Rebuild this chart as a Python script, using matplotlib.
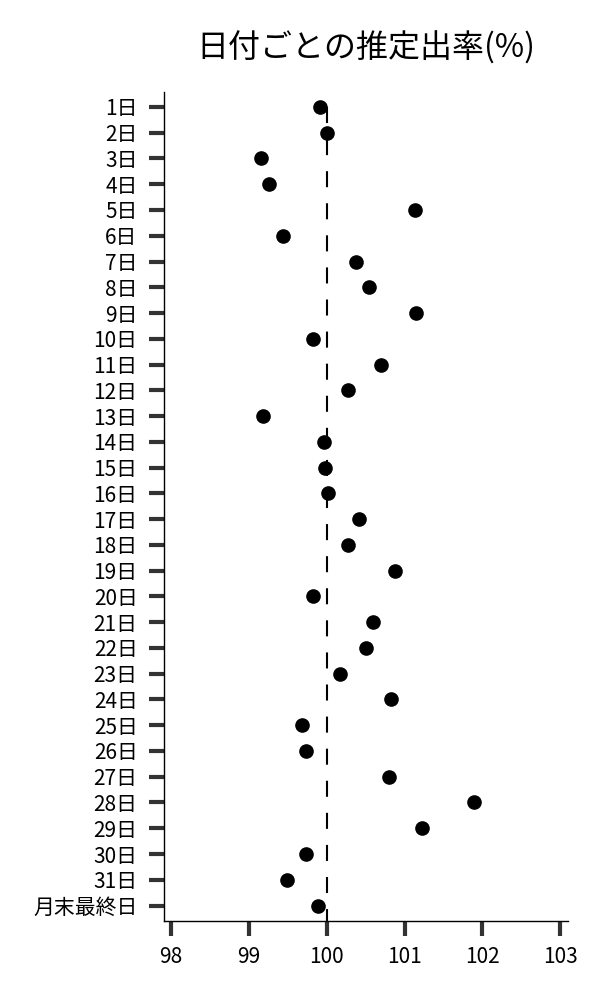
import numpy as np
import matplotlib
matplotlib.use("Agg")
import matplotlib.pyplot as plt

plt.rcParams['font.family'] = ['Noto Sans CJK JP', 'DejaVu Sans']

days = [f"{i}日" for i in range(1, 32)] + ["月末最終日"]
rates = [99.91, 100.00, 99.15, 99.26, 101.14, 99.44, 100.38, 100.54,
         101.15, 99.83, 100.70, 100.28, 99.18, 99.97, 99.98, 100.02,
         100.41, 100.28, 100.88, 99.83, 100.60, 100.51, 100.17, 100.83,
         99.68, 99.74, 100.80, 101.89, 101.22, 99.73, 99.49, 99.89]
xticks = [98, 99, 100, 101, 102, 103]
title = "日付ごとの推定出率(%)"

fig = plt.figure(figsize=(6, 10), dpi=100)
ax = fig.add_axes([0.2733, 0.079, 0.6734, 0.829])

y = np.arange(len(days))
ax.vlines(100, 0, len(days) - 0.4, colors='black', linestyles=(0, (7.7, 7.7)), linewidth=1.5, zorder=1)
ax.plot(rates, y, 'o', color='black', markersize=9.5, zorder=2)

ax.set_yticks(y)
ax.set_yticklabels(days, fontsize=15)
ax.set_xticks(xticks)
ax.set_xticklabels([str(t) for t in xticks], fontsize=15)
ax.set_xlim(97.91, 103.10)
ax.set_ylim(len(days) - 0.4, -0.58)

ax.tick_params(axis='x', length=11, width=3, color='#333333', pad=7)
ax.tick_params(axis='y', length=11, width=3, color='#333333', pad=8)
for s in ['top', 'right']:
    ax.spines[s].set_visible(False)
for s in ['left', 'bottom']:
    ax.spines[s].set_linewidth(1.0)

ax.set_title(title, fontsize=23, pad=25)

fig.savefig("out.png", dpi=100)
